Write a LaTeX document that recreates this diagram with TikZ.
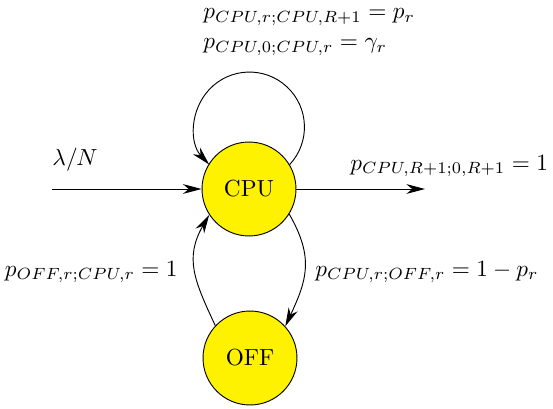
\documentclass[tikz,border=0pt]{standalone}
\usetikzlibrary{arrows.meta}

\begin{document}
\begin{tikzpicture}[x=0.43pt,y=0.43pt,yscale=-1,
    state/.style={circle,draw,fill=yellow,minimum size=40.4pt,inner sep=0pt},
    arr/.style={-{Stealth[length=8pt,width=4.2pt,inset=2.5pt]}},
    lbl/.style={anchor=west,inner sep=0pt}]
      \useasboundingbox (0,0) rectangle (553,409);

      % States
      \node[state] (cpu) at (249,189) {CPU};
      \node[state] (off) at (250,358) {OFF};

      % In and out
      \coordinate (in) at (52,189);
      \coordinate (out) at (425,189);
      \draw[arr] (in) -- (cpu);
      \draw[arr] (cpu) -- (out);

      % Self loop
      \draw[arr] (cpu.31) arc[start angle=43, end angle=-223, radius=55];

      % CPU <-> OFF
      \draw[arr] (cpu.-32) to[out=60,in=-65,looseness=1.15] (off.42);
      \draw[arr] (off.137) to[out=-115,in=120,looseness=1.15] (cpu.213);

      % Text Node
      \node[lbl] (ploop) at (203,17) {$p_{CPU,r;CPU,R+1} = p_r$};
      \node[lbl] (pgam) at (203,47) {$p_{CPU,0;CPU,r} = \gamma_r$};
      \node[lbl] (lam) at (52,160) {$\lambda/N$};
      \node[lbl] (pout) at (350,166) {$p_{CPU,R+1;0,R+1} = 1$};
      \node[lbl,anchor=east] (pon) at (178,272) {$p_{OFF,r;CPU,r} = 1$};
      \node[lbl] (poff) at (315,272) {$p_{CPU,r;OFF,r} = 1 - p_r$};

\end{tikzpicture}
\end{document}
